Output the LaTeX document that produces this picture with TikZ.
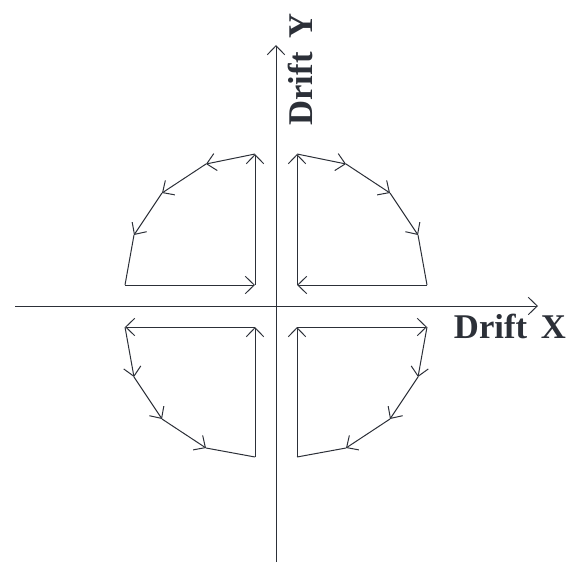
\documentclass[tikz,border=0pt]{standalone}
\usepackage{fontspec}
\setmainfont{Liberation Serif}
\usetikzlibrary{arrows.meta}
\definecolor{ink}{RGB}{44,48,56}

\begin{document}
\begin{tikzpicture}[
  x=0.75pt, y=-0.75pt,
  axis/.style={draw=ink, line width=0.75pt, ->},
  flow/.style={draw=ink, line width=0.75pt},
  label/.style={inner sep=0pt, text=ink, font=\fontsize{26}{30}\selectfont\bfseries},
  >={Straight Barb[length=6.75pt, width=13pt]}
]
\useasboundingbox (0,0) rectangle (570,563);
% axes
\coordinate (xl) at (15,306);
\coordinate (xr) at (538,306);
\coordinate (yb) at (276,562);
\coordinate (yt) at (276,45);
\draw[axis] (xl) -- (xr);
\draw[axis] (yb) -- (yt);
\node[label, anchor=base] (dx) at (510,338.5) {Drift\hspace{0.15em} X};
\node[label, anchor=base, rotate=90] (dy) at (312,69.5) {Drift\hspace{0.15em} Y};
% upper left
\coordinate (ul0) at (125,285);
\coordinate (ul1) at (255,285);
\coordinate (ul2) at (255,154);
\coordinate (ul3) at (206,164);
\coordinate (ul4) at (162,193);
\coordinate (ul5) at (134,235);
% upper right
\coordinate (ur0) at (427,285);
\coordinate (ur1) at (297,285);
\coordinate (ur2) at (297,154);
\coordinate (ur3) at (346,164);
\coordinate (ur4) at (390,193);
\coordinate (ur5) at (418,235);
% lower left
\coordinate (ll0) at (255,457);
\coordinate (ll1) at (255,327);
\coordinate (ll2) at (125,327);
\coordinate (ll3) at (134,377);
\coordinate (ll4) at (162,419);
\coordinate (ll5) at (206,448);
% lower right
\coordinate (lr0) at (297,457);
\coordinate (lr1) at (297,327);
\coordinate (lr2) at (427,327);
\coordinate (lr3) at (418,377);
\coordinate (lr4) at (390,419);
\coordinate (lr5) at (346,448);
\foreach \q in {ul,ur,ll,lr}{
  \foreach \i [evaluate=\i as \j using int(\i+1)] in {0,...,4}
    \draw[flow, ->] (\q\i) -- (\q\j);
  \draw[flow] (\q5) -- (\q0);
}
\end{tikzpicture}
\end{document}
